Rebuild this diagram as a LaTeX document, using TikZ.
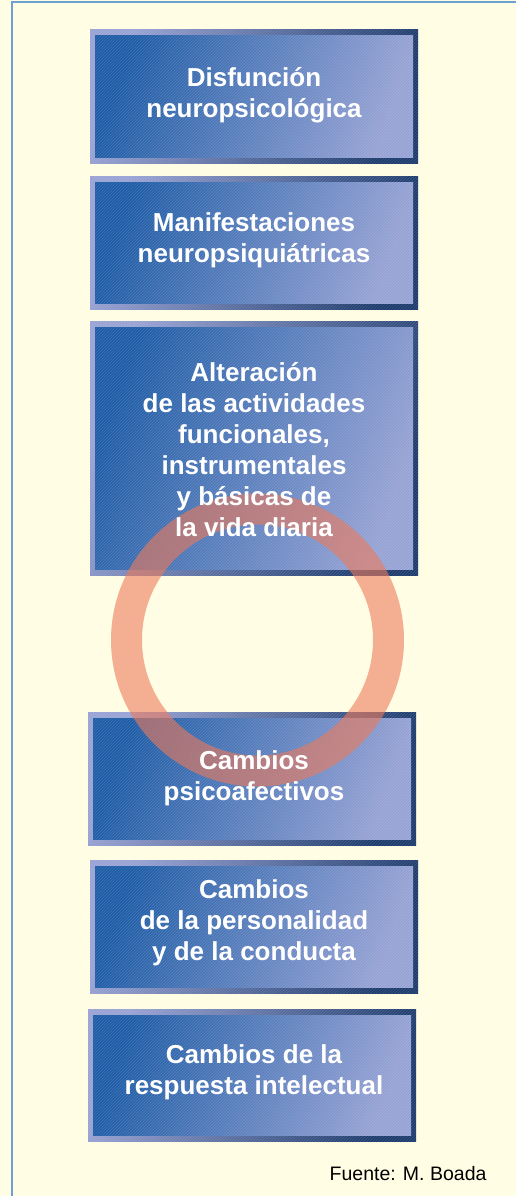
\documentclass[tikz,border=0pt]{standalone}
\usepackage{fontspec}
\setmainfont{Liberation Sans}
\usetikzlibrary{patterns}
\definecolor{bgcol}{RGB}{255,253,228}
\definecolor{rimcol}{RGB}{110,160,210}
\definecolor{framelight}{RGB}{152,162,212}
\definecolor{framedark}{RGB}{28,58,108}
\definecolor{facedark}{RGB}{30,92,166}
\definecolor{facelight}{RGB}{150,162,212}
\definecolor{ringcol}{RGB}{237,122,90}
\tikzset{
  boxtext/.style={text=white,align=center,font=\bfseries\fontsize{26}{31}\selectfont},
  srctext/.style={text=black,font=\fontsize{19.5}{22}\selectfont},
}
% bevelled, hatched box: x1 y1 x2 y2 (pixel units)
\newcommand\hatchBox[4]{
  \shade[top color=framelight,bottom color=framedark,shading angle=70] (#1,#2) rectangle (#3,#4);
  \shade[top color=facedark,bottom color=facelight,shading angle=70] (#1+5,#2+6) rectangle (#3-5,#4-6);
  \fill[pattern=north east lines,pattern color=white,opacity=0.15] (#1,#2) rectangle (#3,#4);
}

\begin{document}
\begin{tikzpicture}[x=1pt,y=-1pt]
  \def\cx{254}  % centre line of the boxes
  \def\R{131}   % ring radius
  \fill[bgcol] (0,0) rectangle (516,1196);
  \useasboundingbox (0,0) rectangle (516,1196);
  \draw[rimcol,line width=1.2pt] (12,1196) -- (12,2) -- (516,2);

  % boxes
  \hatchBox{90}{30}{418}{163}
  \hatchBox{90}{176}{418}{309}
  \hatchBox{90}{321}{418}{575}
  \hatchBox{88}{712}{416}{845}
  \hatchBox{90}{860}{418}{993}
  \hatchBox{88}{1009}{416}{1141}

  % ring on top of the boxes
  \draw[ringcol,opacity=0.6,line width=31pt] (257.5,640) circle[radius=\R pt];

  % labels
  \node[boxtext] (disf) at (\cx,95) {Disfunción\\neuropsicológica};
  \node[boxtext] (manif) at (\cx,240) {Manifestaciones\\neuropsiquiátricas};
  \node[boxtext] (alter) at (\cx,450) {Alteración\\de las actividades\\funcionales,\\instrumentales\\y básicas de\\la vida diaria};
  \node[boxtext] (psico) at (\cx,778) {Cambios\\psicoafectivos};
  \node[boxtext] (perso) at (\cx,923) {Cambios\\de la personalidad\\y de la conducta};
  \node[boxtext] (intel) at (\cx,1072) {Cambios de la\\respuesta intelectual};
  \node[srctext,anchor=base east] (fuente) at (490,1180) {Fuente: M. Boada};
\end{tikzpicture}
\end{document}
